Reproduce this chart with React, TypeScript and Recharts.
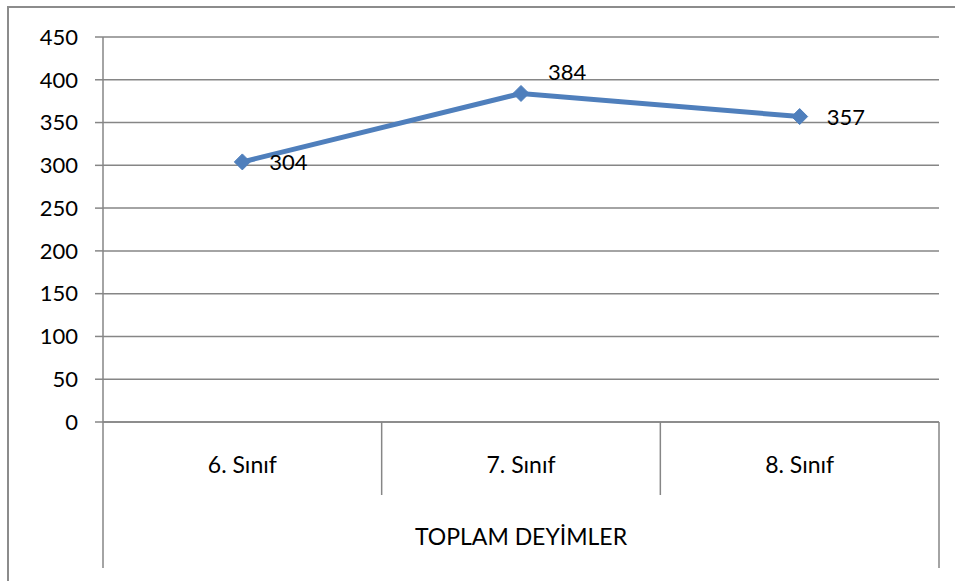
import React from 'react';
import {
  LineChart,
  Line,
  XAxis,
  YAxis,
  CartesianGrid,
  LabelList,
} from 'recharts';

const categories = ['6. Sınıf', '7. Sınıf', '8. Sınıf'];
const totals = [304, 384, 357];
const yTicks = [0, 50, 100, 150, 200, 250, 300, 350, 400, 450];
const groupLabel = 'TOPLAM DEYİMLER';

const data = categories.map((name, i) => ({ name, value: totals[i] }));

const FONT = 'Lato, "Open Sans", sans-serif';
const GRID = '#868686';
const BLUE = '#4F7FBC';

// label placement per point (Excel put the middle one above-right)
const labelDy = [0, -21, 0];

const Diamond = (props: any) => {
  const { cx, cy } = props;
  if (cx == null || cy == null) return null;
  const r = 8;
  return (
    <path
      d={`M${cx},${cy - r} L${cx + r},${cy} L${cx},${cy + r} L${cx - r},${cy} Z`}
      fill={BLUE}
      stroke={BLUE}
    />
  );
};

const CategoryTick = (props: any) => {
  const { x, y, payload, index } = props;
  const half = payload.offset || 0;
  const last = index === categories.length - 1;
  return (
    <g>
      <line x1={x - half} y1={y} x2={x - half} y2={y + (index === 0 ? 146 : 73)} stroke={GRID} strokeWidth={1.5} />
      {last && (
        <line x1={x + half} y1={y} x2={x + half} y2={y + 146} stroke={GRID} strokeWidth={1.5} />
      )}
      <text x={x} y={y + 51} textAnchor="middle" fontSize={23} fontFamily={FONT} fill="#000">
        {payload.value}
      </text>
    </g>
  );
};

const ValueLabel = (props: any) => {
  const { x, y, value, index } = props;
  return (
    <text x={x + 27} y={y + 8 + labelDy[index]} fontSize={22} fontFamily={FONT} fill="#000">
      {value}
    </text>
  );
};

export default function App() {
  return (
    <div style={{ position: 'absolute', left: 0, top: 0, width: 955, height: 581, background: '#fff', overflow: 'hidden' }}>
      <div
        style={{
          position: 'absolute',
          left: 7,
          top: 6,
          width: 1000,
          height: 700,
          border: '2px solid #8c8c8c',
        }}
      />
      <div style={{ position: 'absolute', left: 0, top: 0 }}>
        <LineChart width={955} height={581} data={data} margin={{ top: 37, right: 16, bottom: 0, left: 0 }}>
          <CartesianGrid vertical={false} stroke={GRID} strokeWidth={1.5} />
          <XAxis
            dataKey="name"
            scale="band"
            height={159}
            axisLine={{ stroke: GRID, strokeWidth: 1.5 }}
            tickLine={false}
            tickSize={0}
            tickMargin={0}
            interval={0}
            tick={<CategoryTick />}
            label={{ value: groupLabel, position: 'insideBottom', offset: 36, fontSize: 23, fontFamily: FONT, fill: '#000' }}
          />
          <YAxis
            width={103}
            domain={[0, 450]}
            ticks={yTicks}
            interval={0}
            axisLine={{ stroke: GRID, strokeWidth: 1.5 }}
            tickLine={{ stroke: GRID, strokeWidth: 1.5 }}
            tickSize={8}
            tickMargin={17}
            tick={{ fontSize: 22, fontFamily: FONT, fill: '#000' }}
          />
          <Line
            dataKey="value"
            stroke={BLUE}
            strokeWidth={5}
            dot={<Diamond />}
            activeDot={false}
            isAnimationActive={false}
          >
            <LabelList dataKey="value" content={<ValueLabel />} />
          </Line>
        </LineChart>
      </div>
    </div>
  );
}
